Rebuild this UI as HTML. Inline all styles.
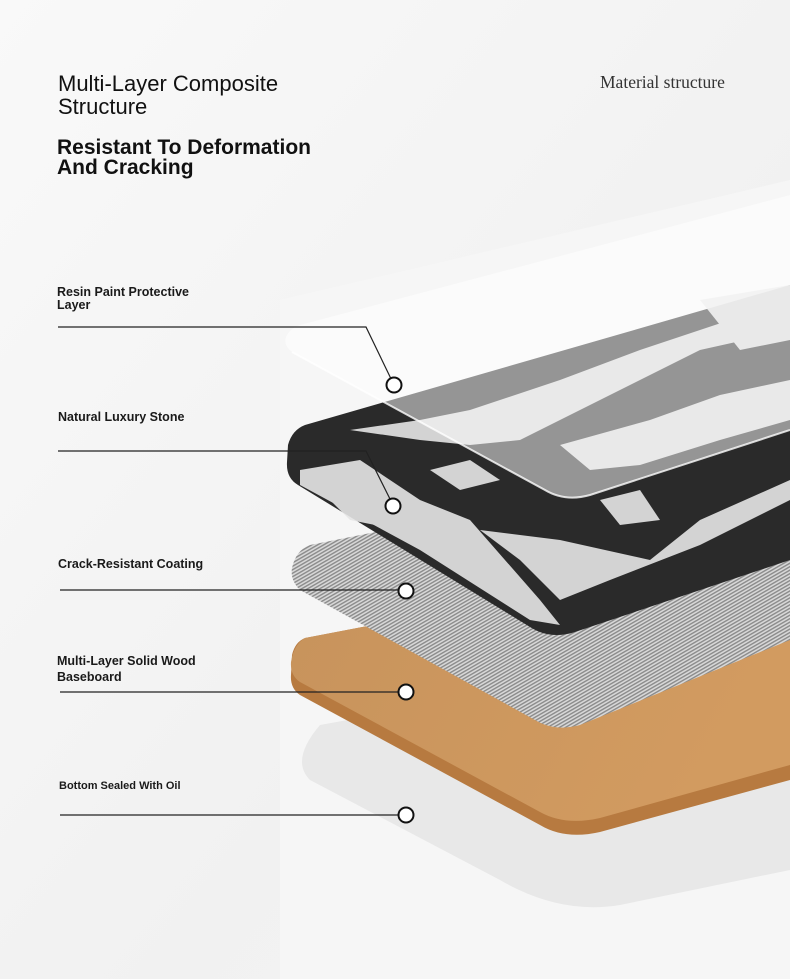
<!DOCTYPE html>
<html><head><meta charset="utf-8"><style>
body{margin:0;width:790px;height:979px;overflow:hidden;background:#f3f3f3;font-family:"Liberation Sans",Arial,sans-serif;position:relative}
.t{position:absolute;color:#111}
.l{font-weight:bold;font-size:12.5px;color:#1a1a1a}
</style></head><body>
<svg width="790" height="979" style="position:absolute;left:0;top:0">
<defs>
<linearGradient id="bg" x1="0" y1="0" x2="1" y2="1">
<stop offset="0" stop-color="#f9f9f9"/><stop offset="0.6" stop-color="#f1f1f1"/><stop offset="1" stop-color="#f4f4f4"/></linearGradient>
<pattern id="mesh" width="3" height="3" patternUnits="userSpaceOnUse" patternTransform="rotate(60)">
<rect width="3" height="3" fill="#d8d8d8"/><rect width="1.4" height="3" fill="#8a8a8a"/></pattern>
<linearGradient id="wood" x1="0" y1="0" x2="1" y2="0.3"><stop offset="0" stop-color="#c7935c"/><stop offset="1" stop-color="#d29b60"/></linearGradient>
</defs>
<rect width="790" height="979" fill="url(#bg)"/>
<path d="M280 300 L790 180 L790 979 L280 979Z" fill="#f6f6f6"/>
<!-- shadow -->
<path d="M320 725 L790 640 L790 870 L620 905 Q560 915 500 880 L310 780 Q290 760 320 725Z" fill="#e8e8e8"/>
<!-- wood -->
<path d="M305 638 L790 545 L790 780 L600 832 Q565 840 540 825 L300 695 Q290 688 291 675 L292 655 Q295 642 305 638Z" fill="#b77a40"/>
<path d="M305 638 L790 545 L790 765 L600 818 Q565 826 540 812 L300 682 Q290 675 291 662 Q294 644 305 638Z" fill="url(#wood)"/>
<!-- mesh -->
<path d="M310 545 L790 450 L790 640 L580 725 Q555 732 535 720 L300 590 Q290 580 292 568 Q296 550 310 545Z" fill="url(#mesh)"/>
<!-- marble -->
<path d="M305 425 L790 285 L790 560 L575 632 Q550 640 530 627 L298 485 Q286 478 287 462 L288 445 Q292 430 305 425Z" fill="#2a2a2a"/>
<g fill="#e6e6e6" opacity="0.9">
<path d="M300 470 L360 460 L420 500 L470 520 L540 600 L560 625 L530 620 L420 550 L300 485Z"/>
<path d="M480 530 L560 540 L650 560 L700 520 L790 480 L790 500 L700 545 L610 580 L560 600 L520 560Z"/>
<path d="M350 430 L420 420 L470 410 L500 400 L560 380 L640 350 L790 300 L790 330 L700 350 L640 380 L600 400 L560 420 L520 440 L470 445 L420 440Z"/>
<path d="M560 445 L650 420 L720 395 L790 380 L790 420 L720 440 L640 465 L590 470Z"/>
<path d="M330 500 L380 505 L400 530 L350 520Z"/>
<path d="M600 500 L640 490 L660 520 L620 525Z"/>
<path d="M700 300 L790 285 L790 340 L740 350Z"/>
<path d="M430 470 L470 460 L500 480 L460 490Z"/>
</g>
<!-- resin -->
<path d="M300 325 L790 195 L790 430 L590 495 Q565 502 545 490 L292 352 Q283 345 286 337 Q290 328 300 325Z" fill="#ffffff" opacity="0.5"/>
<path d="M292 352 L545 490 Q565 502 590 495 L790 430" fill="none" stroke="#fff" stroke-width="2" opacity="0.8"/>
<!-- connectors -->
<g stroke="#222" stroke-width="1.2" fill="none">
<polyline points="58,327 366,327 394,385"/>
<polyline points="58,451 366,451 393,505"/>
<line x1="60" y1="590" x2="406" y2="590"/>
<line x1="60" y1="692" x2="406" y2="692"/>
<line x1="60" y1="815" x2="406" y2="815"/>
</g>
<g fill="#fff" stroke="#111" stroke-width="2">
<circle cx="394" cy="385" r="7.5"/><circle cx="393" cy="506" r="7.5"/>
<circle cx="406" cy="591" r="7.5"/><circle cx="406" cy="692" r="7.5"/><circle cx="406" cy="815" r="7.5"/>
</g>
</svg>
<div class="t" style="left:58px;top:72px;font-size:22px;line-height:23px">Multi-Layer Composite<br>Structure</div>
<div class="t" style="left:57px;top:138px;font-size:21px;line-height:20px;font-weight:bold">Resistant To Deformation<br>And Cracking</div>
<div class="t" style="left:600px;top:72px;font-size:17.5px;font-family:'Liberation Serif',serif;color:#333">Material structure</div>
<div class="t l" style="left:57px;top:286px;line-height:13px">Resin Paint Protective<br>Layer</div>
<div class="t l" style="left:58px;top:410px">Natural Luxury Stone</div>
<div class="t l" style="left:58px;top:557px">Crack-Resistant Coating</div>
<div class="t l" style="left:57px;top:653px;line-height:16px">Multi-Layer Solid Wood<br>Baseboard</div>
<div class="t l" style="left:59px;top:780px;font-size:11px">Bottom Sealed With Oil</div>
</body></html>
